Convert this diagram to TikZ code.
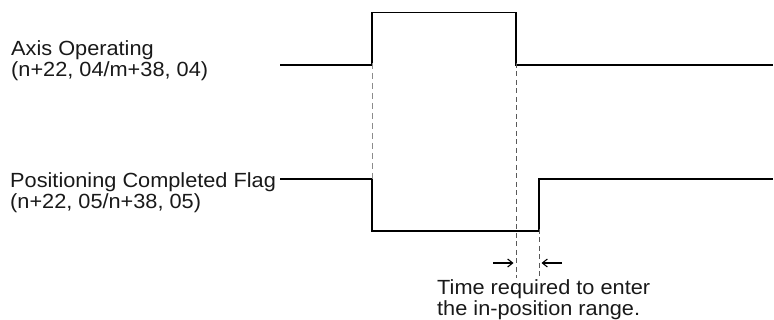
\documentclass[tikz,border=0pt]{standalone}
\usepackage{fontspec}
\setmainfont{Liberation Sans}[FakeStretch=1.06]
\usetikzlibrary{arrows.meta}
\begin{document}
\begin{tikzpicture}[x=1pt,y=-1pt,
  wave/.style={line width=1.4pt, line join=miter},
  guideA/.style={black!45, line width=0.9pt, dash pattern=on 6pt off 4pt},
  guideB/.style={black!65, line width=0.8pt, dash pattern=on 5pt off 3.5pt},
  lbl/.style={anchor=base west, inner sep=0pt, text=black!90, font=\fontsize{20.5}{21}\selectfont},
  dimarrow/.style={line width=1.1pt, -{Straight Barb[length=5pt,width=8pt]}}]
\useasboundingbox (0,0) rectangle (774,320);
% labels
\node[lbl] (ax1) at (11,56) {Axis Operating};
\node[lbl] (ax2) at (11,77) {(n+22, 04/m+38, 04)};
\node[lbl] (pf1) at (10,188) {Positioning Completed Flag};
\node[lbl] (pf2) at (10,209) {(n+22, 05/n+38, 05)};
\node[lbl] (t1) at (437,295) {Time required to enter};
\node[lbl] (t2) at (437,316) {the in-position range.};
% axis operating waveform
\coordinate (a0) at (280,65);
\coordinate (a1) at (372,65);
\coordinate (a2) at (372,12.5);
\coordinate (a3) at (516,12.5);
\coordinate (a4) at (516,65);
\coordinate (a5) at (773,65);
% flag waveform
\coordinate (f0) at (280,179);
\coordinate (f1) at (372,179);
\coordinate (f2) at (372,231);
\coordinate (f3) at (539,231);
\coordinate (f4) at (539,179);
\coordinate (f5) at (773,179);
% guide ends
\coordinate (g1) at (516,278);
\coordinate (g2) at (539,278);
% arrow ends
\coordinate (r0) at (493,263);
\coordinate (r1) at (513.5,263);
\coordinate (l0) at (562,263);
\coordinate (l1) at (541.5,263);
\draw[wave] (a0) -- (a1) -- (a2) -- (a3) -- (a4) -- (a5);
\draw[wave] (f0) -- (f1) -- (f2) -- (f3) -- (f4) -- (f5);
\draw[guideA] ([yshift=2pt]a1) -- ([yshift=-1pt]f1);
\draw[guideB] ([yshift=2pt]a4) -- (g1);
\draw[guideB] ([yshift=2pt]f3) -- (g2);
\draw[dimarrow] (r0) -- (r1);
\draw[dimarrow] (l0) -- (l1);
\end{tikzpicture}
\end{document}
